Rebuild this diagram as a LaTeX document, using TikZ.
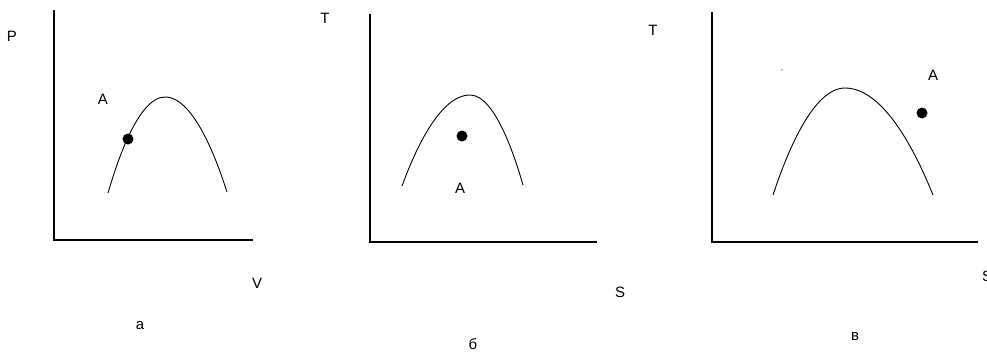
\documentclass[tikz,border=0pt]{standalone}
\usepackage{fontspec}
\setmainfont{Liberation Sans}
\usepackage{tikz}
\usetikzlibrary{positioning}

\tikzset{
  axis/.style={line width=1.8pt},
  curve/.style={line width=0.9pt},
  dot/.style={circle,fill,inner sep=0pt,minimum size=11pt},
  lbl/.style={inner sep=0pt,font=\fontsize{15}{17}\selectfont}
}

\begin{document}
\begin{tikzpicture}[x=1pt,y=-1pt]
    \useasboundingbox (0,0) rectangle (987,354);

    % Panel a: P-V
    \draw[axis] (54,10) -- (54,240) -- (253,240);
    \draw[curve] (108,193) parabola bend (165,97) (227,192);
    \node[dot] (ptA1) at (128,139) {};
    \node[lbl] (labA1) at (103,99) {A};
    \node[lbl] (labP) at (12,36) {P};
    \node[lbl] (labV) at (257,283) {V};
    \node[lbl] (capA) at (140,326) {а};

    % Panel b: T-S
    \draw[axis] (370,14) -- (370,242) -- (597,242);
    \draw[curve] (402,186) parabola bend (470,95) (523,185);
    \node[dot] (ptA2) at (462,136) {};
    \node[lbl] (labA2) at (460,188) {A};
    \node[lbl] (labT1) at (325,18) {T};
    \node[lbl] (labS1) at (620,292) {S};
    \node[lbl] (capB) at (473,344) {б};

    % Panel c: T-S
    \draw[axis] (712,12) -- (712,242) -- (978,242);
    \draw[curve] (773,195) parabola bend (845,88) (933,195);
    \fill (782,70) circle (0.7pt);
    \node[dot] (ptA3) at (922,113) {};
    \node[lbl] (labA3) at (933,75) {A};
    \node[lbl] (labT2) at (653,30) {T};
    \node[lbl] (labS2) at (987,276) {S};
    \node[lbl] (capC) at (855,337) {в};
\end{tikzpicture}
\end{document}
